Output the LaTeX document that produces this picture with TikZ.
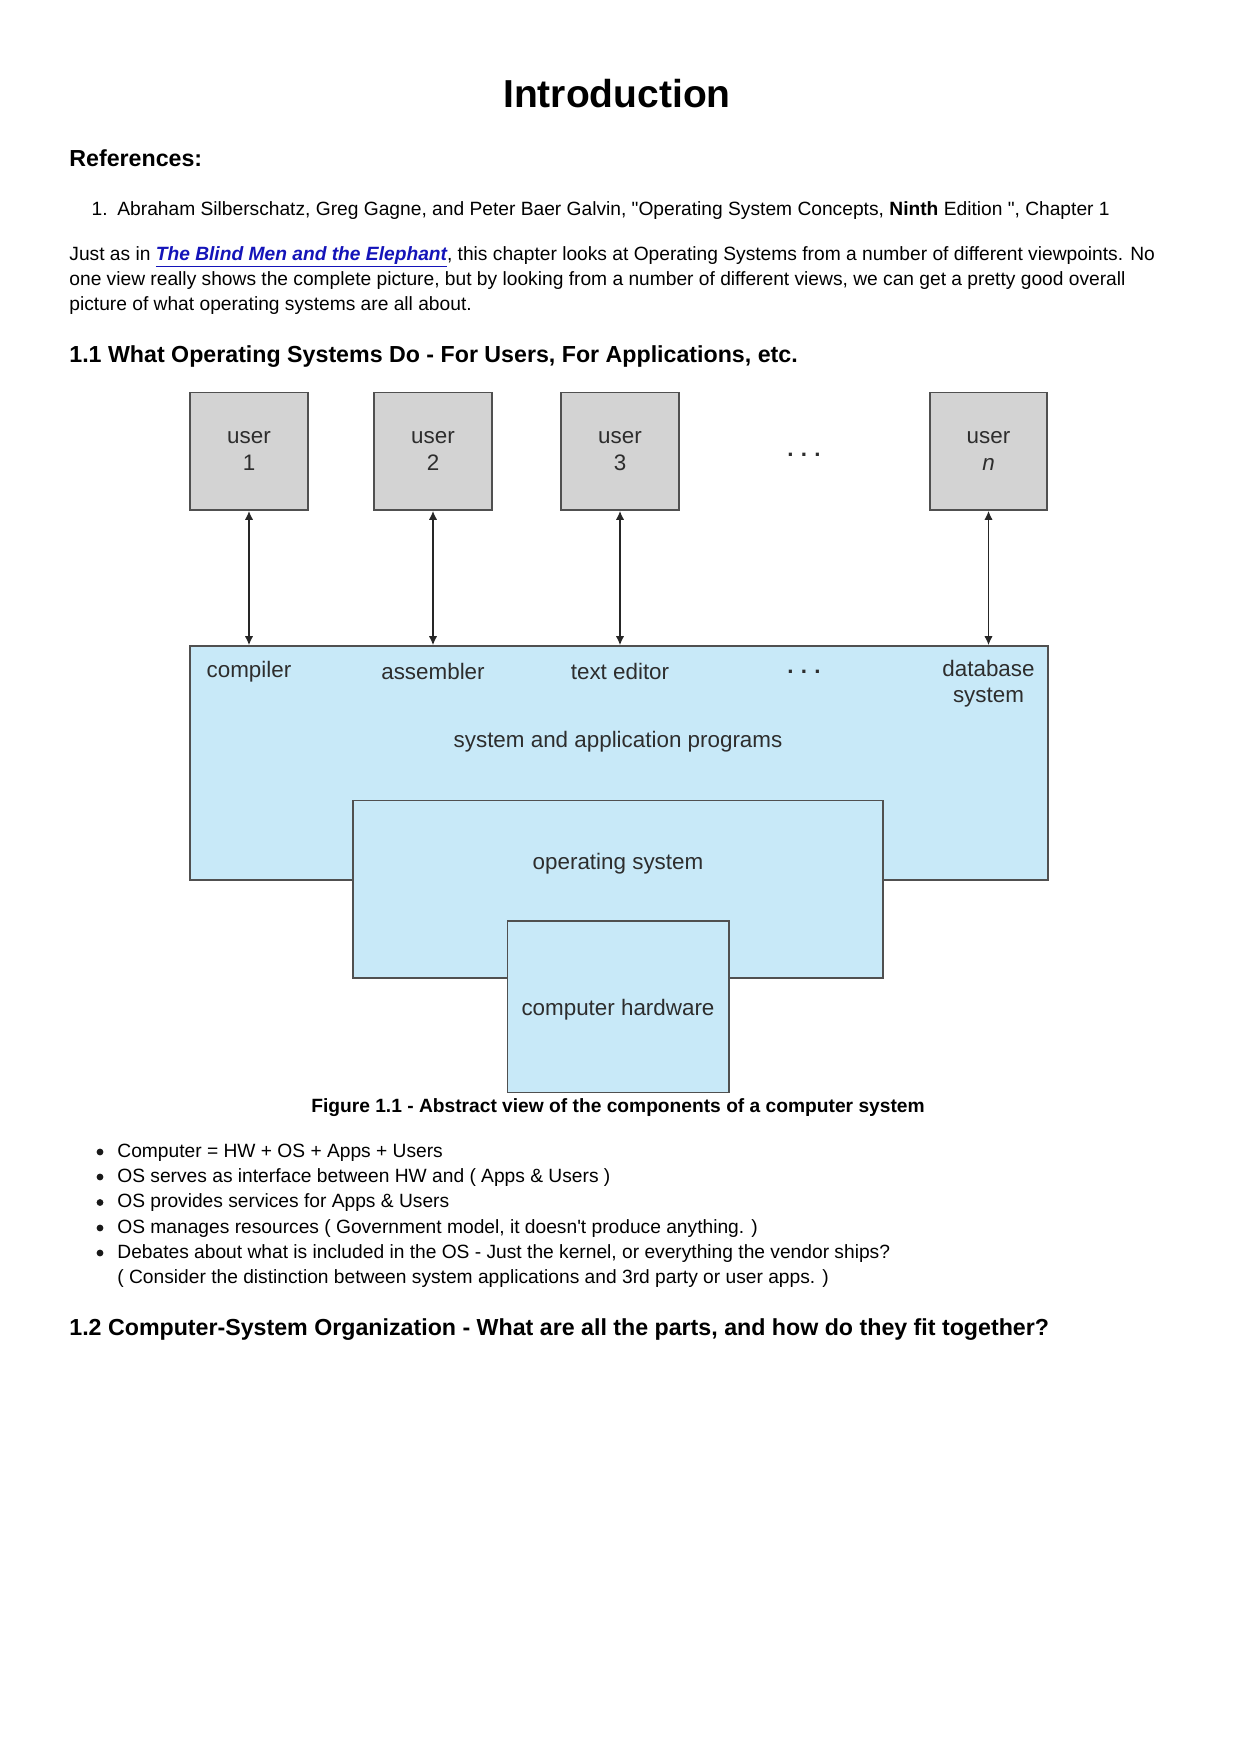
\documentclass[tikz,border=0pt]{standalone}
\usepackage{fontspec}
\setmainfont{Liberation Sans}
\usetikzlibrary{arrows.meta}
\definecolor{boxgray}{RGB}{211,211,211}
\definecolor{boxblue}{RGB}{200,233,248}
\definecolor{edge}{RGB}{80,80,80}
\definecolor{dtext}{RGB}{45,45,45}
\definecolor{linkblue}{RGB}{20,20,185}
\newcommand{\mydots}{{\bfseries .\hspace{3.6pt}.\hspace{3.6pt}.}}
\begin{document}
\begin{tikzpicture}[x=0.5pt,y=-0.5pt,
  txt/.style={inner sep=0pt,anchor=base west,font=\fontsize{9.6}{12}\selectfont},
  hd/.style={inner sep=0pt,anchor=base west,font=\fontsize{11.6}{13}\selectfont\bfseries},
  dlabel/.style={inner sep=0pt,text=dtext,font=\fontsize{11.2}{13}\selectfont,align=center},
  userbox/.style={draw=edge,line width=0.8pt,fill=boxgray,minimum width=58.75pt,minimum height=58.75pt,inner sep=0pt,text=dtext,font=\fontsize{11.2}{13}\selectfont,align=center},
  bluebox/.style={draw=edge,line width=0.8pt,fill=boxblue,inner sep=0pt},
  dbl/.style={{Latex[length=4.5pt,width=4.2pt]}-{Latex[length=4.5pt,width=4.2pt]},line width=0.85pt,draw=black!85},
  bul/.style={circle,fill=black!90,inner sep=0pt,minimum size=3.4pt}]
\useasboundingbox[fill=white] (0,0) rectangle (1239,1753);
% title and header text
\node[inner sep=0pt,anchor=base,font=\fontsize{19.5}{22}\selectfont\bfseries] (title) at (617,107) {Introduction};
\node[hd,font=\fontsize{11.6}{13}\selectfont\bfseries] (refs) at (69,166) {References:};
\node[txt,anchor=base east] (n1) at (108,215) {1.};
\node[txt] (ref1) at (117,215) {Abraham Silberschatz, Greg Gagne, and Peter Baer Galvin, \textquotedbl Operating System Concepts, \textbf{Ninth} Edition \textquotedbl, Chapter 1};
\node[txt] (p1) at (69,260) {Just as in \textcolor{linkblue}{\textbf{\textit{\underline{The Blind Men and the Elephant}}}}, this chapter looks at Operating Systems from a number of different viewpoints. No};
\node[txt] (p2) at (69,285) {one view really shows the complete picture, but by looking from a number of different views, we can get a pretty good overall};
\node[txt] (p3) at (69,310) {picture of what operating systems are all about.};
\node[hd] (h11) at (69,362) {1.1 What Operating Systems Do - For Users, For Applications, etc.};
% diagram
\node[bluebox,minimum width=429pt,minimum height=117pt] (sys) at (619,763) {};
\node[bluebox,minimum width=265pt,minimum height=88.7pt] (os) at (618,889.3) {};
\node[bluebox,minimum width=110.7pt,minimum height=85.75pt] (hw) at (618.3,1006.75) {};
\node[userbox] (u1) at (249,451.25) {user\\[0.5pt]1};
\node[userbox] (u2) at (433,451.25) {user\\[0.5pt]2};
\node[userbox] (u3) at (620,451.25) {user\\[0.5pt]3};
\node[userbox] (un) at (988.5,451.25) {user\\[0.5pt]\textit{n}};
\node[dlabel] (dots1) at (804,455) {\mydots};
\draw[dbl] (u1.south) -- (u1.south |- sys.north);
\draw[dbl] (u2.south) -- (u2.south |- sys.north);
\draw[dbl] (u3.south) -- (u3.south |- sys.north);
\draw[dbl] (un.south) -- (un.south |- sys.north);
\node[dlabel] (comp) at (249,671.5) {compiler};
\node[dlabel] (asm) at (433,671.5) {assembler};
\node[dlabel] (ted) at (620,671.5) {text editor};
\node[dlabel] (dots2) at (804,672) {\mydots};
\node[dlabel] (db) at (988.5,684) {database\\system};
\node[dlabel] (sap) at (618,742) {system and application programs};
\node[dlabel] (ost) at (618,863.5) {operating system};
\node[dlabel] (hwt) at (618,1010) {computer hardware};
\node[inner sep=0pt,anchor=base,font=\fontsize{9.6}{12}\selectfont\bfseries] (cap) at (618,1112) {Figure 1.1 - Abstract view of the components of a computer system};
% bullets
\node[bul] (b1) at (100,1152) {};
\node[txt] (t1) at (117,1157) {Computer = HW + OS + Apps + Users};
\node[bul] (b2) at (100,1177) {};
\node[txt] (t2) at (117,1182) {OS serves as interface between HW and ( Apps \& Users )};
\node[bul] (b3) at (100,1202.5) {};
\node[txt] (t3) at (117,1207.5) {OS provides services for Apps \& Users};
\node[bul] (b4) at (100,1228) {};
\node[txt] (t4) at (117,1233) {OS manages resources ( Government model, it doesn\textquotesingle t produce anything. )};
\node[bul] (b5) at (100,1253) {};
\node[txt] (t5) at (117,1258) {Debates about what is included in the OS - Just the kernel, or everything the vendor ships?};
\node[txt] (t6) at (117,1283.5) {( Consider the distinction between system applications and 3rd party or user apps. )};
\node[hd] (h12) at (69,1335) {1.2 Computer-System Organization - What are all the parts, and how do they fit together?};
\end{tikzpicture}
\end{document}
